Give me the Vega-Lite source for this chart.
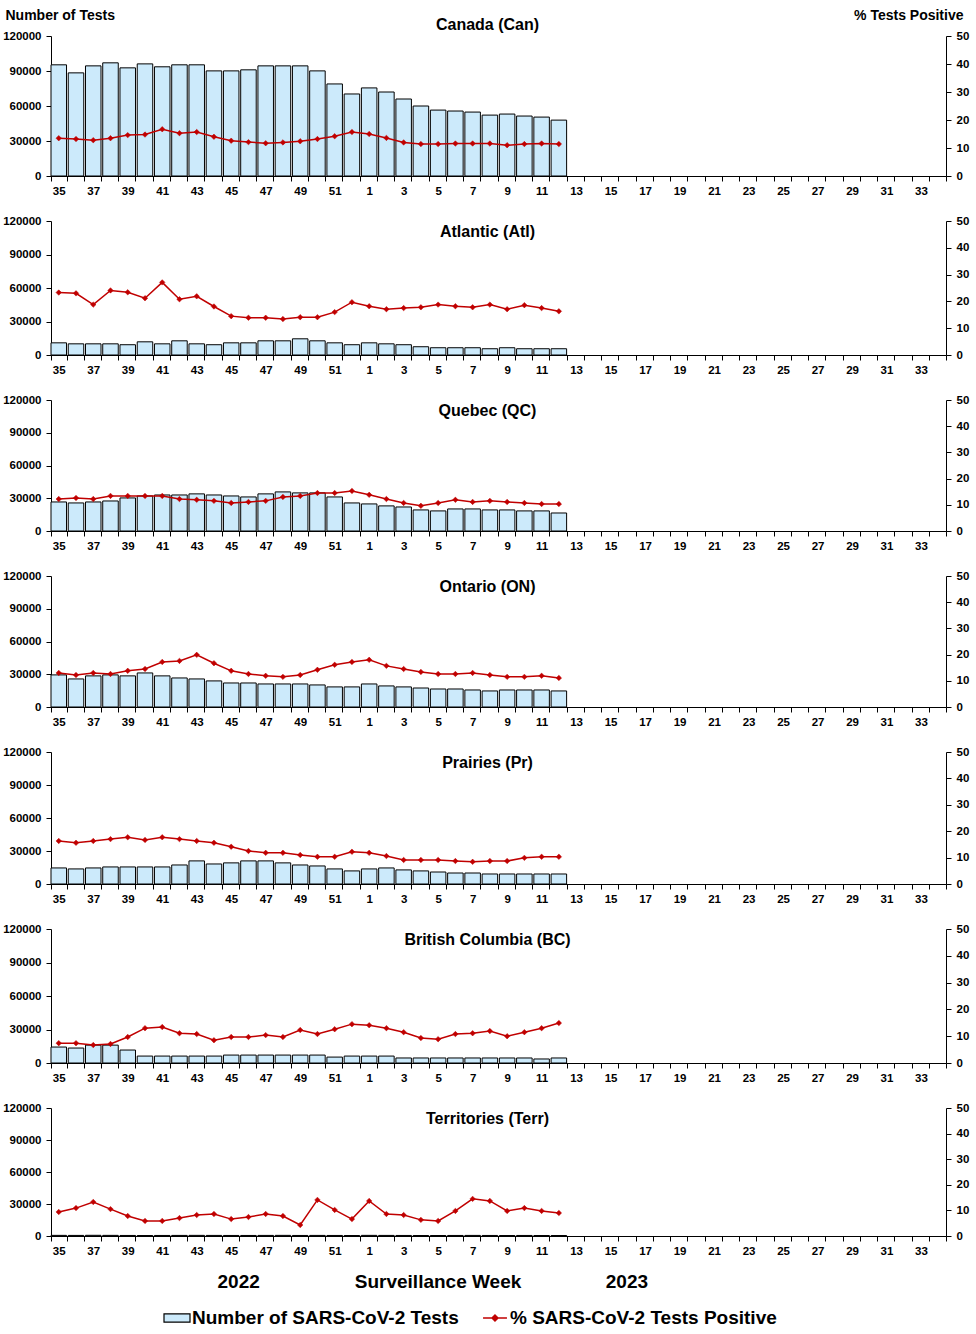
{
"$schema": "https://vega.github.io/schema/vega-lite/v6.json",
"padding": {"left": 2, "top": 8, "right": 4, "bottom": 5},
"background": "#ffffff",
"spacing": 18,
"datasets": {"d": [
{"r":"Can","w":35,"t":95300,"p":13.5},{"r":"Can","w":36,"t":88400,"p":13.2},{"r":"Can","w":37,"t":94400,"p":12.8},{"r":"Can","w":38,"t":97000,"p":13.5},{"r":"Can","w":39,"t":92700,"p":14.6},{"r":"Can","w":40,"t":96100,"p":14.8},{"r":"Can","w":41,"t":93600,"p":16.7},{"r":"Can","w":42,"t":95300,"p":15.3},{"r":"Can","w":43,"t":95300,"p":15.7},{"r":"Can","w":44,"t":90100,"p":14.0},{"r":"Can","w":45,"t":90100,"p":12.6},{"r":"Can","w":46,"t":91000,"p":12.1},{"r":"Can","w":47,"t":94400,"p":11.7},{"r":"Can","w":48,"t":94400,"p":12.0},{"r":"Can","w":49,"t":94400,"p":12.4},{"r":"Can","w":50,"t":90100,"p":13.2},{"r":"Can","w":51,"t":78900,"p":14.2},{"r":"Can","w":52,"t":70300,"p":15.7},{"r":"Can","w":1,"t":75500,"p":15.0},{"r":"Can","w":2,"t":72000,"p":13.6},{"r":"Can","w":3,"t":66000,"p":12.0},{"r":"Can","w":4,"t":60000,"p":11.4},{"r":"Can","w":5,"t":56500,"p":11.4},{"r":"Can","w":6,"t":55700,"p":11.6},{"r":"Can","w":7,"t":54800,"p":11.6},{"r":"Can","w":8,"t":52200,"p":11.6},{"r":"Can","w":9,"t":53100,"p":11.0},{"r":"Can","w":10,"t":51400,"p":11.4},{"r":"Can","w":11,"t":50500,"p":11.6},{"r":"Can","w":12,"t":47900,"p":11.4},
{"r":"Atl","w":35,"t":10900,"p":23.3},{"r":"Atl","w":36,"t":10000,"p":23.0},{"r":"Atl","w":37,"t":10000,"p":18.8},{"r":"Atl","w":38,"t":10000,"p":24.1},{"r":"Atl","w":39,"t":9200,"p":23.4},{"r":"Atl","w":40,"t":11800,"p":21.2},{"r":"Atl","w":41,"t":10000,"p":27.1},{"r":"Atl","w":42,"t":12700,"p":20.8},{"r":"Atl","w":43,"t":10000,"p":21.9},{"r":"Atl","w":44,"t":9200,"p":18.1},{"r":"Atl","w":45,"t":10900,"p":14.5},{"r":"Atl","w":46,"t":10900,"p":13.9},{"r":"Atl","w":47,"t":12700,"p":13.9},{"r":"Atl","w":48,"t":12700,"p":13.4},{"r":"Atl","w":49,"t":14500,"p":14.1},{"r":"Atl","w":50,"t":12700,"p":14.1},{"r":"Atl","w":51,"t":10900,"p":16.0},{"r":"Atl","w":52,"t":9200,"p":19.7},{"r":"Atl","w":1,"t":10900,"p":18.2},{"r":"Atl","w":2,"t":10000,"p":17.1},{"r":"Atl","w":3,"t":9200,"p":17.5},{"r":"Atl","w":4,"t":7400,"p":17.8},{"r":"Atl","w":5,"t":6500,"p":18.8},{"r":"Atl","w":6,"t":6500,"p":18.2},{"r":"Atl","w":7,"t":6500,"p":17.8},{"r":"Atl","w":8,"t":5600,"p":18.8},{"r":"Atl","w":9,"t":6500,"p":17.1},{"r":"Atl","w":10,"t":5600,"p":18.6},{"r":"Atl","w":11,"t":5600,"p":17.5},{"r":"Atl","w":12,"t":5600,"p":16.3},
{"r":"QC","w":35,"t":26600,"p":12.2},{"r":"QC","w":36,"t":25700,"p":12.6},{"r":"QC","w":37,"t":26600,"p":12.2},{"r":"QC","w":38,"t":27500,"p":13.4},{"r":"QC","w":39,"t":30300,"p":13.4},{"r":"QC","w":40,"t":32100,"p":13.4},{"r":"QC","w":41,"t":33000,"p":13.4},{"r":"QC","w":42,"t":33000,"p":12.2},{"r":"QC","w":43,"t":34000,"p":11.9},{"r":"QC","w":44,"t":33000,"p":11.5},{"r":"QC","w":45,"t":32100,"p":10.7},{"r":"QC","w":46,"t":31200,"p":11.1},{"r":"QC","w":47,"t":34000,"p":11.5},{"r":"QC","w":48,"t":35800,"p":13.0},{"r":"QC","w":49,"t":34900,"p":13.4},{"r":"QC","w":50,"t":34900,"p":14.5},{"r":"QC","w":51,"t":31200,"p":14.5},{"r":"QC","w":52,"t":25700,"p":15.3},{"r":"QC","w":1,"t":24800,"p":13.8},{"r":"QC","w":2,"t":23000,"p":12.2},{"r":"QC","w":3,"t":22000,"p":10.7},{"r":"QC","w":4,"t":19300,"p":9.6},{"r":"QC","w":5,"t":18400,"p":10.7},{"r":"QC","w":6,"t":20200,"p":11.9},{"r":"QC","w":7,"t":20200,"p":11.1},{"r":"QC","w":8,"t":19300,"p":11.5},{"r":"QC","w":9,"t":19300,"p":11.1},{"r":"QC","w":10,"t":18400,"p":10.7},{"r":"QC","w":11,"t":18400,"p":10.3},{"r":"QC","w":12,"t":16500,"p":10.3},
{"r":"ON","w":35,"t":29400,"p":13.0},{"r":"ON","w":36,"t":25700,"p":12.2},{"r":"ON","w":37,"t":28500,"p":13.0},{"r":"ON","w":38,"t":29400,"p":12.6},{"r":"ON","w":39,"t":28500,"p":13.8},{"r":"ON","w":40,"t":31200,"p":14.5},{"r":"ON","w":41,"t":28500,"p":17.2},{"r":"ON","w":42,"t":26600,"p":17.6},{"r":"ON","w":43,"t":25700,"p":19.9},{"r":"ON","w":44,"t":23900,"p":16.7},{"r":"ON","w":45,"t":22000,"p":13.8},{"r":"ON","w":46,"t":22000,"p":12.6},{"r":"ON","w":47,"t":21100,"p":11.9},{"r":"ON","w":48,"t":21100,"p":11.5},{"r":"ON","w":49,"t":21100,"p":12.2},{"r":"ON","w":50,"t":20200,"p":14.2},{"r":"ON","w":51,"t":18400,"p":16.1},{"r":"ON","w":52,"t":18400,"p":17.2},{"r":"ON","w":1,"t":21100,"p":18.0},{"r":"ON","w":2,"t":19300,"p":15.7},{"r":"ON","w":3,"t":18400,"p":14.5},{"r":"ON","w":4,"t":17400,"p":13.4},{"r":"ON","w":5,"t":16500,"p":12.6},{"r":"ON","w":6,"t":16500,"p":12.6},{"r":"ON","w":7,"t":15600,"p":13.0},{"r":"ON","w":8,"t":14700,"p":12.2},{"r":"ON","w":9,"t":15600,"p":11.5},{"r":"ON","w":10,"t":15600,"p":11.5},{"r":"ON","w":11,"t":15600,"p":11.9},{"r":"ON","w":12,"t":14700,"p":11.1},
{"r":"Pr","w":35,"t":14600,"p":16.3},{"r":"Pr","w":36,"t":13700,"p":15.6},{"r":"Pr","w":37,"t":14600,"p":16.3},{"r":"Pr","w":38,"t":15500,"p":17.0},{"r":"Pr","w":39,"t":15500,"p":17.7},{"r":"Pr","w":40,"t":15500,"p":16.7},{"r":"Pr","w":41,"t":15500,"p":17.7},{"r":"Pr","w":42,"t":17300,"p":17.0},{"r":"Pr","w":43,"t":21000,"p":16.3},{"r":"Pr","w":44,"t":18200,"p":15.6},{"r":"Pr","w":45,"t":19200,"p":14.1},{"r":"Pr","w":46,"t":21000,"p":12.5},{"r":"Pr","w":47,"t":21000,"p":11.8},{"r":"Pr","w":48,"t":19200,"p":11.8},{"r":"Pr","w":49,"t":17300,"p":11.0},{"r":"Pr","w":50,"t":16400,"p":10.3},{"r":"Pr","w":51,"t":13700,"p":10.3},{"r":"Pr","w":52,"t":11900,"p":12.2},{"r":"Pr","w":1,"t":13700,"p":11.8},{"r":"Pr","w":2,"t":14600,"p":10.6},{"r":"Pr","w":3,"t":12800,"p":9.1},{"r":"Pr","w":4,"t":11900,"p":9.1},{"r":"Pr","w":5,"t":10900,"p":9.1},{"r":"Pr","w":6,"t":10000,"p":8.7},{"r":"Pr","w":7,"t":10000,"p":8.4},{"r":"Pr","w":8,"t":9100,"p":8.7},{"r":"Pr","w":9,"t":9100,"p":8.7},{"r":"Pr","w":10,"t":9100,"p":9.9},{"r":"Pr","w":11,"t":9100,"p":10.3},{"r":"Pr","w":12,"t":9100,"p":10.3},
{"r":"BC","w":35,"t":14300,"p":7.4},{"r":"BC","w":36,"t":13400,"p":7.4},{"r":"BC","w":37,"t":16000,"p":6.7},{"r":"BC","w":38,"t":16000,"p":7.1},{"r":"BC","w":39,"t":11600,"p":9.7},{"r":"BC","w":40,"t":6200,"p":13.0},{"r":"BC","w":41,"t":6200,"p":13.4},{"r":"BC","w":42,"t":6200,"p":11.1},{"r":"BC","w":43,"t":6200,"p":10.8},{"r":"BC","w":44,"t":6200,"p":8.5},{"r":"BC","w":45,"t":7100,"p":9.7},{"r":"BC","w":46,"t":7100,"p":9.7},{"r":"BC","w":47,"t":7100,"p":10.4},{"r":"BC","w":48,"t":7100,"p":9.7},{"r":"BC","w":49,"t":7100,"p":12.3},{"r":"BC","w":50,"t":7100,"p":10.8},{"r":"BC","w":51,"t":5300,"p":12.6},{"r":"BC","w":52,"t":6200,"p":14.5},{"r":"BC","w":1,"t":6200,"p":14.1},{"r":"BC","w":2,"t":6200,"p":13.0},{"r":"BC","w":3,"t":4500,"p":11.5},{"r":"BC","w":4,"t":4500,"p":9.3},{"r":"BC","w":5,"t":4500,"p":8.9},{"r":"BC","w":6,"t":4500,"p":10.8},{"r":"BC","w":7,"t":4500,"p":11.1},{"r":"BC","w":8,"t":4500,"p":11.9},{"r":"BC","w":9,"t":4500,"p":10.0},{"r":"BC","w":10,"t":4500,"p":11.5},{"r":"BC","w":11,"t":3600,"p":13.0},{"r":"BC","w":12,"t":4500,"p":14.9},
{"r":"Terr","w":35,"t":600,"p":9.4},{"r":"Terr","w":36,"t":550,"p":10.9},{"r":"Terr","w":37,"t":650,"p":13.3},{"r":"Terr","w":38,"t":600,"p":10.5},{"r":"Terr","w":39,"t":500,"p":7.8},{"r":"Terr","w":40,"t":450,"p":5.9},{"r":"Terr","w":41,"t":500,"p":5.9},{"r":"Terr","w":42,"t":550,"p":7.0},{"r":"Terr","w":43,"t":600,"p":8.2},{"r":"Terr","w":44,"t":550,"p":8.6},{"r":"Terr","w":45,"t":500,"p":6.6},{"r":"Terr","w":46,"t":500,"p":7.4},{"r":"Terr","w":47,"t":550,"p":8.6},{"r":"Terr","w":48,"t":600,"p":7.8},{"r":"Terr","w":49,"t":500,"p":4.3},{"r":"Terr","w":50,"t":550,"p":14.1},{"r":"Terr","w":51,"t":500,"p":10.2},{"r":"Terr","w":52,"t":450,"p":6.6},{"r":"Terr","w":1,"t":600,"p":13.7},{"r":"Terr","w":2,"t":550,"p":8.6},{"r":"Terr","w":3,"t":500,"p":8.2},{"r":"Terr","w":4,"t":450,"p":6.3},{"r":"Terr","w":5,"t":450,"p":5.9},{"r":"Terr","w":6,"t":500,"p":9.8},{"r":"Terr","w":7,"t":550,"p":14.5},{"r":"Terr","w":8,"t":500,"p":13.7},{"r":"Terr","w":9,"t":450,"p":9.8},{"r":"Terr","w":10,"t":500,"p":10.9},{"r":"Terr","w":11,"t":450,"p":9.8},{"r":"Terr","w":12,"t":450,"p":9.0}
]},
"data": {"name": "d"},
"vconcat": [
{"height": 140, "width": 895,
 "title": {"text": "Canada (Can)", "offset": -25, "dx": -11},
 "transform": [{"filter": "datum.r == 'Can'"}],
 "layer": [
  {"mark": {"type": "bar", "stroke": "#000", "strokeWidth": 1, "opacity": 1},
   "encoding": {
    "x": {"field": "w", "type": "ordinal", "scale": {"domain": [35,36,37,38,39,40,41,42,43,44,45,46,47,48,49,50,51,52,1,2,3,4,5,6,7,8,9,10,11,12,13,14,15,16,17,18,19,20,21,22,23,24,25,26,27,28,29,30,31,32,33,34], "paddingInner": 0.1, "paddingOuter": 0}, "axis": {"title": null}},
    "y": {"field": "t", "type": "quantitative", "scale": {"domain": [0, 120000], "nice": false}, "axis": {"values": [0,30000,60000,90000,120000], "format": "d", "title": "Number of Tests", "titleAngle": 0, "titleAlign": "left", "titleBaseline": "middle", "titleX": -46, "titleY": -21, "titleFontSize": 14}},
    "fill": {"datum": "Number of SARS-CoV-2 Tests", "type": "nominal",
      "scale": {"domain": ["Number of SARS-CoV-2 Tests"], "range": ["#cceafb"]},
      "legend": {"orient": "none", "legendX": 112, "legendY": 1268, "title": null, "labelFont": "Liberation Sans", "labelFontSize": 19, "labelFontWeight": "bold", "labelColor": "#000", "labelLimit": 500, "symbolType": "M-1,-0.31H1V0.31H-1Z", "symbolSize": 676, "symbolStrokeWidth": 1.2, "labelOffset": 1}}
   }},
  {"mark": {"type": "line", "color": "#c00000", "strokeWidth": 1.5, "point": {"shape": "diamond", "size": 30, "filled": true, "fill": "#c00000", "strokeWidth": 0.5, "opacity": 1}},
   "encoding": {
    "x": {"field": "w", "type": "ordinal"},
    "y": {"field": "p", "type": "quantitative", "scale": {"domain": [0, 50], "nice": false}, "axis": {"orient": "right", "values": [0,10,20,30,40,50], "title": "%  Tests Positive", "titleAngle": 0, "titleAlign": "right", "titleBaseline": "middle", "titleX": 17, "titleY": -21, "titleFontSize": 14}},
    "stroke": {"datum": "% SARS-CoV-2 Tests Positive", "type": "nominal",
      "scale": {"domain": ["% SARS-CoV-2 Tests Positive"], "range": ["#c00000"]},
      "legend": {"orient": "none", "legendX": 430, "legendY": 1268, "title": null, "labelFont": "Liberation Sans", "labelFontSize": 19, "labelFontWeight": "bold", "labelColor": "#000", "labelLimit": 500, "symbolType": "M-0.92,0H0.92M0,-0.24L0.24,0L0,0.24L-0.24,0Z", "symbolSize": 676, "symbolFillColor": "#c00000", "symbolStrokeWidth": 1.3, "labelOffset": 1}}
   }}
 ],
 "resolve": {"scale": {"y": "independent"}}},
{"height": 134, "width": 895,
 "title": {"text": "Atlantic (Atl)", "offset": -25, "dx": -11},
 "transform": [{"filter": "datum.r == 'Atl'"}],
 "layer": [
  {"mark": {"type": "bar", "stroke": "#000", "strokeWidth": 1, "opacity": 1},
   "encoding": {
    "x": {"field": "w", "type": "ordinal", "scale": {"domain": [35,36,37,38,39,40,41,42,43,44,45,46,47,48,49,50,51,52,1,2,3,4,5,6,7,8,9,10,11,12,13,14,15,16,17,18,19,20,21,22,23,24,25,26,27,28,29,30,31,32,33,34], "paddingInner": 0.1, "paddingOuter": 0}, "axis": {"title": null}},
    "y": {"field": "t", "type": "quantitative", "scale": {"domain": [0, 120000], "nice": false}, "axis": {"values": [0,30000,60000,90000,120000], "format": "d", "title": null}},
    "fill": {"datum": "Number of SARS-CoV-2 Tests", "type": "nominal"}
   }},
  {"mark": {"type": "line", "color": "#c00000", "strokeWidth": 1.5, "point": {"shape": "diamond", "size": 30, "filled": true, "fill": "#c00000", "strokeWidth": 0.5, "opacity": 1}},
   "encoding": {
    "x": {"field": "w", "type": "ordinal"},
    "y": {"field": "p", "type": "quantitative", "scale": {"domain": [0, 50], "nice": false}, "axis": {"orient": "right", "values": [0,10,20,30,40,50], "title": null}},
    "stroke": {"datum": "% SARS-CoV-2 Tests Positive", "type": "nominal"}
   }}
 ],
 "resolve": {"scale": {"y": "independent"}}},
{"height": 131, "width": 895,
 "title": {"text": "Quebec (QC)", "offset": -25, "dx": -11},
 "transform": [{"filter": "datum.r == 'QC'"}],
 "layer": [
  {"mark": {"type": "bar", "stroke": "#000", "strokeWidth": 1, "opacity": 1},
   "encoding": {
    "x": {"field": "w", "type": "ordinal", "scale": {"domain": [35,36,37,38,39,40,41,42,43,44,45,46,47,48,49,50,51,52,1,2,3,4,5,6,7,8,9,10,11,12,13,14,15,16,17,18,19,20,21,22,23,24,25,26,27,28,29,30,31,32,33,34], "paddingInner": 0.1, "paddingOuter": 0}, "axis": {"title": null}},
    "y": {"field": "t", "type": "quantitative", "scale": {"domain": [0, 120000], "nice": false}, "axis": {"values": [0,30000,60000,90000,120000], "format": "d", "title": null}},
    "fill": {"datum": "Number of SARS-CoV-2 Tests", "type": "nominal"}
   }},
  {"mark": {"type": "line", "color": "#c00000", "strokeWidth": 1.5, "point": {"shape": "diamond", "size": 30, "filled": true, "fill": "#c00000", "strokeWidth": 0.5, "opacity": 1}},
   "encoding": {
    "x": {"field": "w", "type": "ordinal"},
    "y": {"field": "p", "type": "quantitative", "scale": {"domain": [0, 50], "nice": false}, "axis": {"orient": "right", "values": [0,10,20,30,40,50], "title": null}},
    "stroke": {"datum": "% SARS-CoV-2 Tests Positive", "type": "nominal"}
   }}
 ],
 "resolve": {"scale": {"y": "independent"}}},
{"height": 131, "width": 895,
 "title": {"text": "Ontario (ON)", "offset": -25, "dx": -11},
 "transform": [{"filter": "datum.r == 'ON'"}],
 "layer": [
  {"mark": {"type": "bar", "stroke": "#000", "strokeWidth": 1, "opacity": 1},
   "encoding": {
    "x": {"field": "w", "type": "ordinal", "scale": {"domain": [35,36,37,38,39,40,41,42,43,44,45,46,47,48,49,50,51,52,1,2,3,4,5,6,7,8,9,10,11,12,13,14,15,16,17,18,19,20,21,22,23,24,25,26,27,28,29,30,31,32,33,34], "paddingInner": 0.1, "paddingOuter": 0}, "axis": {"title": null}},
    "y": {"field": "t", "type": "quantitative", "scale": {"domain": [0, 120000], "nice": false}, "axis": {"values": [0,30000,60000,90000,120000], "format": "d", "title": null}},
    "fill": {"datum": "Number of SARS-CoV-2 Tests", "type": "nominal"}
   }},
  {"mark": {"type": "line", "color": "#c00000", "strokeWidth": 1.5, "point": {"shape": "diamond", "size": 30, "filled": true, "fill": "#c00000", "strokeWidth": 0.5, "opacity": 1}},
   "encoding": {
    "x": {"field": "w", "type": "ordinal"},
    "y": {"field": "p", "type": "quantitative", "scale": {"domain": [0, 50], "nice": false}, "axis": {"orient": "right", "values": [0,10,20,30,40,50], "title": null}},
    "stroke": {"datum": "% SARS-CoV-2 Tests Positive", "type": "nominal"}
   }}
 ],
 "resolve": {"scale": {"y": "independent"}}},
{"height": 132, "width": 895,
 "title": {"text": "Prairies (Pr)", "offset": -25, "dx": -11},
 "transform": [{"filter": "datum.r == 'Pr'"}],
 "layer": [
  {"mark": {"type": "bar", "stroke": "#000", "strokeWidth": 1, "opacity": 1},
   "encoding": {
    "x": {"field": "w", "type": "ordinal", "scale": {"domain": [35,36,37,38,39,40,41,42,43,44,45,46,47,48,49,50,51,52,1,2,3,4,5,6,7,8,9,10,11,12,13,14,15,16,17,18,19,20,21,22,23,24,25,26,27,28,29,30,31,32,33,34], "paddingInner": 0.1, "paddingOuter": 0}, "axis": {"title": null}},
    "y": {"field": "t", "type": "quantitative", "scale": {"domain": [0, 120000], "nice": false}, "axis": {"values": [0,30000,60000,90000,120000], "format": "d", "title": null}},
    "fill": {"datum": "Number of SARS-CoV-2 Tests", "type": "nominal"}
   }},
  {"mark": {"type": "line", "color": "#c00000", "strokeWidth": 1.5, "point": {"shape": "diamond", "size": 30, "filled": true, "fill": "#c00000", "strokeWidth": 0.5, "opacity": 1}},
   "encoding": {
    "x": {"field": "w", "type": "ordinal"},
    "y": {"field": "p", "type": "quantitative", "scale": {"domain": [0, 50], "nice": false}, "axis": {"orient": "right", "values": [0,10,20,30,40,50], "title": null}},
    "stroke": {"datum": "% SARS-CoV-2 Tests Positive", "type": "nominal"}
   }}
 ],
 "resolve": {"scale": {"y": "independent"}}},
{"height": 134, "width": 895,
 "title": {"text": "British Columbia (BC)", "offset": -25, "dx": -11},
 "transform": [{"filter": "datum.r == 'BC'"}],
 "layer": [
  {"mark": {"type": "bar", "stroke": "#000", "strokeWidth": 1, "opacity": 1},
   "encoding": {
    "x": {"field": "w", "type": "ordinal", "scale": {"domain": [35,36,37,38,39,40,41,42,43,44,45,46,47,48,49,50,51,52,1,2,3,4,5,6,7,8,9,10,11,12,13,14,15,16,17,18,19,20,21,22,23,24,25,26,27,28,29,30,31,32,33,34], "paddingInner": 0.1, "paddingOuter": 0}, "axis": {"title": null}},
    "y": {"field": "t", "type": "quantitative", "scale": {"domain": [0, 120000], "nice": false}, "axis": {"values": [0,30000,60000,90000,120000], "format": "d", "title": null}},
    "fill": {"datum": "Number of SARS-CoV-2 Tests", "type": "nominal"}
   }},
  {"mark": {"type": "line", "color": "#c00000", "strokeWidth": 1.5, "point": {"shape": "diamond", "size": 30, "filled": true, "fill": "#c00000", "strokeWidth": 0.5, "opacity": 1}},
   "encoding": {
    "x": {"field": "w", "type": "ordinal"},
    "y": {"field": "p", "type": "quantitative", "scale": {"domain": [0, 50], "nice": false}, "axis": {"orient": "right", "values": [0,10,20,30,40,50], "title": null}},
    "stroke": {"datum": "% SARS-CoV-2 Tests Positive", "type": "nominal"}
   }}
 ],
 "resolve": {"scale": {"y": "independent"}}},
{"height": 128, "width": 895,
 "title": {"text": "Territories (Terr)", "offset": -25, "dx": -11},
 "transform": [{"filter": "datum.r == 'Terr'"}],
 "layer": [
  {"mark": {"type": "bar", "stroke": "#000", "strokeWidth": 1, "opacity": 1},
   "encoding": {
    "x": {"field": "w", "type": "ordinal", "scale": {"domain": [35,36,37,38,39,40,41,42,43,44,45,46,47,48,49,50,51,52,1,2,3,4,5,6,7,8,9,10,11,12,13,14,15,16,17,18,19,20,21,22,23,24,25,26,27,28,29,30,31,32,33,34], "paddingInner": 0.1, "paddingOuter": 0},
      "axis": {"title": "2022\u00a0\u00a0\u00a0\u00a0\u00a0\u00a0\u00a0\u00a0\u00a0\u00a0\u00a0\u00a0\u00a0\u00a0\u00a0\u00a0\u00a0\u00a0Surveillance Week\u00a0\u00a0\u00a0\u00a0\u00a0\u00a0\u00a0\u00a0\u00a0\u00a0\u00a0\u00a0\u00a0\u00a0\u00a0\u00a02023", "titleFontSize": 19, "titleAnchor": "start", "titleAlign": "left", "titleBaseline": "middle", "titleX": 166, "titleY": 45}},
    "y": {"field": "t", "type": "quantitative", "scale": {"domain": [0, 120000], "nice": false}, "axis": {"values": [0,30000,60000,90000,120000], "format": "d", "title": null}},
    "fill": {"datum": "Number of SARS-CoV-2 Tests", "type": "nominal"}
   }},
  {"mark": {"type": "line", "color": "#c00000", "strokeWidth": 1.5, "point": {"shape": "diamond", "size": 30, "filled": true, "fill": "#c00000", "strokeWidth": 0.5, "opacity": 1}},
   "encoding": {
    "x": {"field": "w", "type": "ordinal"},
    "y": {"field": "p", "type": "quantitative", "scale": {"domain": [0, 50], "nice": false}, "axis": {"orient": "right", "values": [0,10,20,30,40,50], "title": null}},
    "stroke": {"datum": "% SARS-CoV-2 Tests Positive", "type": "nominal"}
   }}
 ],
 "resolve": {"scale": {"y": "independent"}}}
],
"config": {
 "font": "Liberation Sans",
 "view": {"stroke": null},
 "title": {"font": "Liberation Sans", "fontSize": 16, "fontWeight": "bold", "color": "#000", "anchor": "middle", "baseline": "bottom"},
 "axis": {"labelFont": "Liberation Sans", "labelFontWeight": "bold", "labelFontSize": 11.5, "labelColor": "#000", "domainColor": "#000", "tickColor": "#000", "grid": false, "titleFont": "Liberation Sans", "titleFontWeight": "bold", "titleColor": "#000", "tickSize": 5, "labelPadding": 5},
 "axisX": {"tickBand": "extent", "labelAngle": 0, "labelOverlap": false, "labelExpr": "datum.value % 2 == 1 ? datum.label : ''", "labelPadding": 4}
}
}
